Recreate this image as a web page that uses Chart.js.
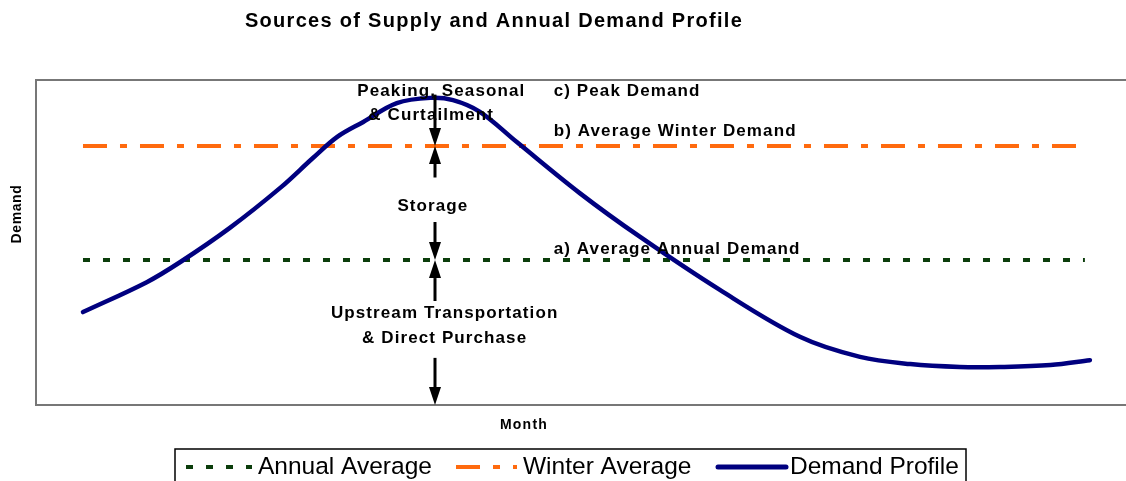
<!DOCTYPE html>
<html>
<head>
<meta charset="utf-8">
<title>Sources of Supply and Annual Demand Profile</title>
<script src="https://cdn.jsdelivr.net/npm/chart.js@4.4.0/dist/chart.umd.min.js"></script>
<style>
  html, body { margin: 0; padding: 0; background: #fff; }
  #wrap { width: 1126px; height: 481px; position: relative; }
</style>
</head>
<body>
<div id="wrap"><canvas id="demand-chart"></canvas></div>
<script>
// --- data (x in months, y in % of plot height) ---
const demandMonths = [0, 0.76, 1.16, 1.75, 2.35, 2.74, 3.03, 3.34, 3.74, 4.14, 4.41, 4.73, 5.17, 5.92, 6.64, 7.59, 8.55, 9.26, 9.86, 10.45, 10.93, 11.53, 12.0];
const demandValues = [28.6, 37.8, 44.0, 54.5, 66.8, 76.0, 82.5, 87.1, 92.9, 94.5, 93.8, 90.2, 80.9, 65.2, 51.7, 35.4, 20.9, 14.8, 12.6, 11.7, 11.7, 12.3, 13.8];

const averageSpan = [0, 11.94];
const annualAverage = 44.6;
const winterAverage = 79.7;

const seriesNames = ['Annual Average', 'Winter Average', 'Demand Profile'];
const chartTitle = 'Sources of Supply and Annual Demand Profile';
const xAxisTitle = 'Month';
const yAxisTitle = 'Demand';

// text notes inside the plot: [text, x, y, align]
const noteLabels = [
    ['Peaking, Seasonal', 4.27, 96.6, 'center'],
    ['& Curtailment', 4.15, 89.2, 'center'],
    ['c) Peak Demand', 5.61, 96.6, 'left'],
    ['b) Average Winter Demand', 5.61, 84.3, 'left'],
    ['Storage', 4.17, 61.2, 'center'],
    ['a) Average Annual Demand', 5.61, 48.0, 'left'],
    ['Upstream Transportation', 4.31, 28.3, 'center'],
    ['& Direct Purchase', 4.31, 20.6, 'center']
];

// arrows: [x, from y, to y (tip)]
const noteArrows = [
    [4.2, 95.5, winterAverage],
    [4.2, 70.0, winterAverage],
    [4.2, 56.3, annualAverage],
    [4.2, 32.0, annualAverage],
    [4.2, 14.5, 0]
];

const colors = {
    annual: '#0b3d0b',
    winter: '#ff6a0e',
    demand: '#00007f'
};
const dashes = {
    annual: [7, 13],
    winter: [24, 13, 7, 13]
};

function drawArrow(ctx, x, y1, y2) {
    const dir = y2 > y1 ? 1 : -1;
    const headLen = 18;
    ctx.beginPath();
    ctx.moveTo(x, y1);
    ctx.lineTo(x, y2 - dir * headLen);
    ctx.stroke();
    ctx.beginPath();
    ctx.moveTo(x, y2);
    ctx.lineTo(x - 6, y2 - dir * headLen);
    ctx.lineTo(x + 6, y2 - dir * headLen);
    ctx.closePath();
    ctx.fill();
}

const decorPlugin = {
    id: 'decor',
    beforeDatasetsDraw(chart) {
        const { ctx, chartArea: a } = chart;
        ctx.save();
        ctx.strokeStyle = '#777';
        ctx.lineWidth = 2;
        ctx.strokeRect(a.left, a.top, a.right - a.left + 4, a.bottom - a.top);
        ctx.restore();
    },
    afterDraw(chart) {
        const { ctx, scales } = chart;
        const xs = scales.x, ys = scales.y;
        ctx.save();

        // title
        ctx.fillStyle = '#000';
        ctx.font = 'bold 20px "Liberation Sans", Arial, sans-serif';
        ctx.letterSpacing = '1.3px';
        ctx.textAlign = 'center';
        ctx.textBaseline = 'middle';
        ctx.fillText(chartTitle, 494, 21);

        // axis titles
        ctx.font = 'bold 14px "Liberation Sans", Arial, sans-serif';
        ctx.letterSpacing = '1.2px';
        ctx.fillText(xAxisTitle, 524, 425);
        ctx.save();
        ctx.translate(17, 214);
        ctx.rotate(-Math.PI / 2);
        ctx.font = 'bold 14px "Liberation Sans", Arial, sans-serif';
        ctx.letterSpacing = '0.6px';
        ctx.fillText(yAxisTitle, 0, 0);
        ctx.restore();

        // notes
        ctx.font = 'bold 17px "Liberation Sans", Arial, sans-serif';
        ctx.letterSpacing = '1.1px';
        noteLabels.forEach(([txt, x, y, align]) => {
            ctx.textAlign = align;
            ctx.fillText(txt, xs.getPixelForValue(x), ys.getPixelForValue(y));
        });
        ctx.letterSpacing = '0px';

        ctx.strokeStyle = '#000';
        ctx.fillStyle = '#000';
        ctx.lineWidth = 3;
        noteArrows.forEach(([x, from, to]) => {
            drawArrow(ctx, Math.round(xs.getPixelForValue(x)), ys.getPixelForValue(from), ys.getPixelForValue(to));
        });

        // legend box
        const lx = 175, ly = 449, lw = 791;
        ctx.strokeStyle = '#000';
        ctx.lineWidth = 1.5;
        ctx.strokeRect(lx, ly, lw, 40);

        const legendItems = [
            { name: seriesNames[0], x0: 186, x1: 252, tx: 258, color: colors.annual, dash: dashes.annual, w: 4 },
            { name: seriesNames[1], x0: 456, x1: 517, tx: 523, color: colors.winter, dash: dashes.winter, w: 4 },
            { name: seriesNames[2], x0: 718, x1: 786, tx: 790, color: colors.demand, dash: [], w: 5 }
        ];
        ctx.font = '24.5px "Liberation Sans Narrow", "Arial Narrow", "Liberation Sans", sans-serif';
        ctx.textAlign = 'left';
        legendItems.forEach(item => {
            ctx.beginPath();
            ctx.setLineDash(item.dash);
            ctx.strokeStyle = item.color;
            ctx.lineWidth = item.w;
            ctx.lineCap = item.dash.length ? 'butt' : 'round';
            ctx.moveTo(item.x0, 467);
            ctx.lineTo(item.x1, 467);
            ctx.stroke();
            ctx.setLineDash([]);
            ctx.fillStyle = '#000';
            ctx.fillText(item.name, item.tx, 467);
        });
        ctx.restore();
    }
};

document.addEventListener('DOMContentLoaded', function () {
    const ctx = document.getElementById('demand-chart').getContext('2d');
    new Chart(ctx, {
        type: 'line',
        data: {
            datasets: [
                {
                    label: seriesNames[0],
                    data: averageSpan.map(x => ({ x: x, y: annualAverage })),
                    borderColor: colors.annual,
                    borderWidth: 4,
                    borderDash: dashes.annual,
                    pointRadius: 0,
                    order: 2
                },
                {
                    label: seriesNames[1],
                    data: averageSpan.map(x => ({ x: x, y: winterAverage })),
                    borderColor: colors.winter,
                    borderWidth: 4,
                    borderDash: dashes.winter,
                    pointRadius: 0,
                    order: 1
                },
                {
                    label: seriesNames[2],
                    data: demandMonths.map((m, i) => ({ x: m, y: demandValues[i] })),
                    borderColor: colors.demand,
                    borderWidth: 4.5,
                    borderCapStyle: 'round',
                    tension: 0.35,
                    pointRadius: 0,
                    order: 0
                }
            ]
        },
        options: {
            responsive: true,
            maintainAspectRatio: false,
            animation: false,
            layout: { padding: { left: 36, top: 80, right: 0, bottom: 76 } },
            plugins: {
                legend: { display: false },
                tooltip: { enabled: false }
            },
            scales: {
                x: { type: 'linear', min: -0.56, max: 12.43, display: false },
                y: { min: 0, max: 100, display: false }
            }
        },
        plugins: [decorPlugin]
    });
});
</script>
</body>
</html>
